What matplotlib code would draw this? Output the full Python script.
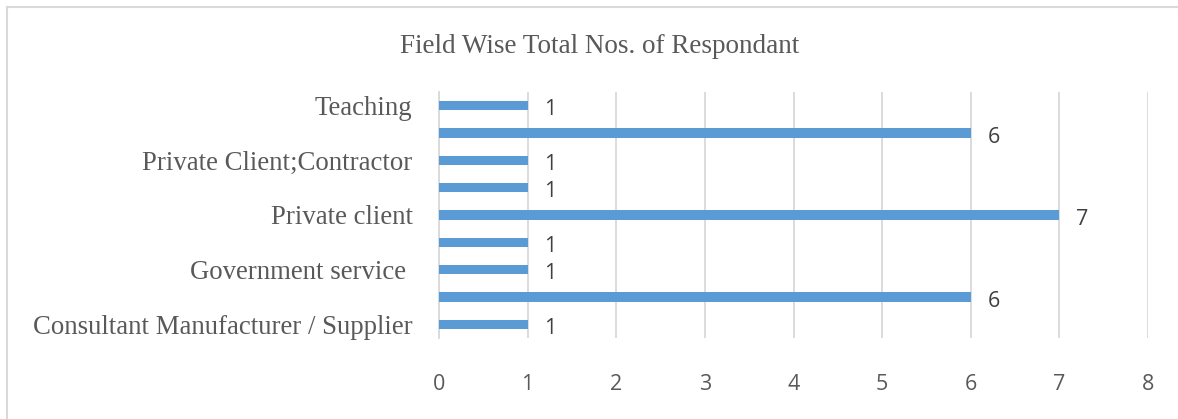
import matplotlib.pyplot as plt
from matplotlib.lines import Line2D

# categories bottom -> top (unlabelled rows were skipped by the original chart)
categories = ["Consultant Manufacturer / Supplier", "", "Government service ", "",
              "Private client", "", "Private Client;Contractor", "", "Teaching"]
counts = [1, 6, 1, 1, 7, 1, 1, 6, 1]
x_ticks = [0, 1, 2, 3, 4, 5, 6, 7, 8]

BAR = "#5B9BD5"
GRID = "#D9D9D9"
SERIF = ["Liberation Serif", "DejaVu Serif"]
SANS = ["Open Sans", "DejaVu Sans"]

fig = plt.figure(figsize=(11.78, 4.19), dpi=100)
ax = fig.add_axes([439 / 1178, 1 - 338 / 419, (1148 - 439) / 1178, (338 - 92) / 419])

pos = list(range(len(categories)))
bars = ax.barh(pos, counts, height=0.33, color=BAR, zorder=3)

for b, v in zip(bars, counts):
    ax.annotate(str(v), (b.get_width(), b.get_y() + b.get_height() / 2),
                xytext=(12, -3), textcoords="offset points", ha="left", va="center",
                fontsize=15.5, color="#404040", family=SANS)

ax.set_xlim(0, 8)
ax.set_ylim(-0.5, len(categories) - 0.5)
ax.set_xticks(x_ticks)
ax.set_xticklabels([str(t) for t in x_ticks], family=SANS, fontsize=15.5, color="#595959")
ax.set_yticks(pos)
ax.set_yticklabels(categories, fontsize=19.3, color="#595959")
for lab in ax.get_yticklabels():
    lab.set_family(SERIF)
ax.tick_params(axis="x", length=0, pad=26)
ax.tick_params(axis="y", length=0, pad=19)
ax.grid(axis="x", color=GRID, linewidth=1.3, zorder=0)
for s in ["top", "right", "bottom"]:
    ax.spines[s].set_visible(False)
ax.spines["left"].set_color(GRID)
ax.spines["left"].set_linewidth(1.3)

fig.text(600 / 1178, 1 - 46 / 419, "Field Wise Total Nos. of Respondant", ha="center", va="center",
         fontsize=19.5, color="#595959", family=SERIF)

# outer chart border (top and left visible in the crop)
fig.add_artist(Line2D([7 / 1178, 1], [1 - 7 / 419, 1 - 7 / 419], color="#D9D9D9", lw=1.5,
                      transform=fig.transFigure))
fig.add_artist(Line2D([7 / 1178, 7 / 1178], [0, 1 - 7 / 419], color="#D9D9D9", lw=1.5,
                      transform=fig.transFigure))

fig.savefig("out.png", dpi=100, facecolor="white")
